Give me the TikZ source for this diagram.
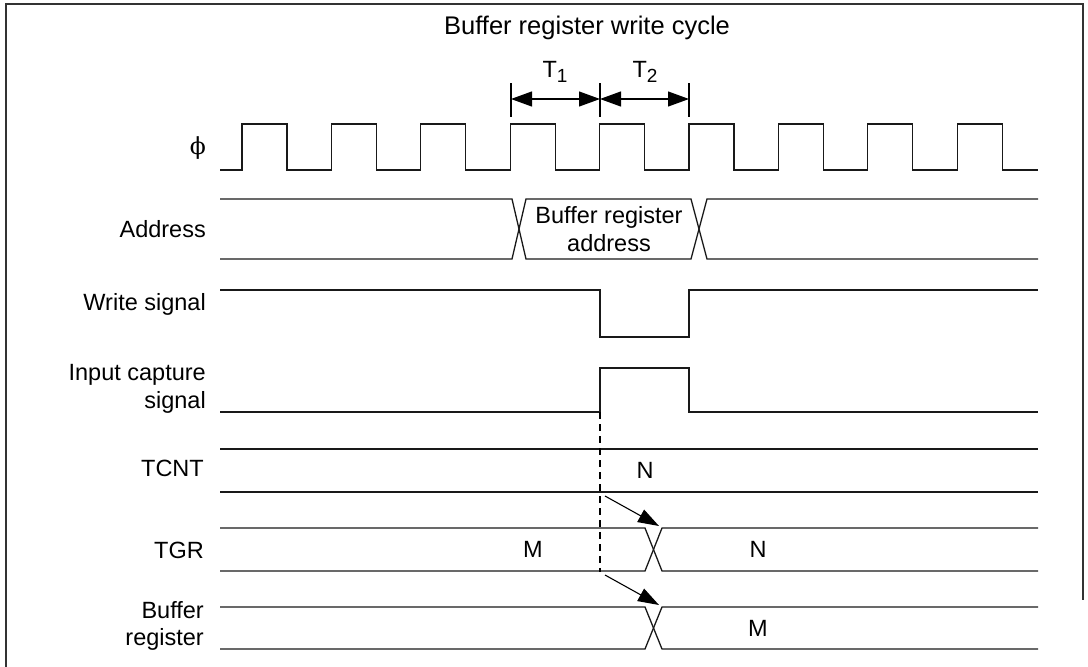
\documentclass[tikz,border=0pt]{standalone}
\usepackage{fontspec}
\setmainfont{Liberation Sans}
\newfontfamily\phifont{DejaVu Serif}
\usetikzlibrary{arrows.meta,positioning}
\newcommand{\sigfont}{\fontsize{23.5}{27.5}\selectfont}
\newcommand{\tsub}[1]{\raisebox{-5pt}{\fontsize{19}{19}\selectfont #1}}
\tikzset{
  frameln/.style={line width=1.5pt, black!80},
  waveln/.style={line width=1.3pt, black!90, line join=miter},
  sigtag/.style={anchor=east, align=right, font=\sigfont, inner sep=0pt},
  valtag/.style={font=\sigfont, inner sep=0pt},
  tickln/.style={line width=1.1pt},
  spanarr/.style={{Triangle[length=21pt,width=15pt]}-{Triangle[length=21pt,width=15pt]}, line width=1.1pt},
  causearr/.style={-{Triangle[length=21pt,width=14pt]}, line width=1.1pt},
  capdash/.style={dash pattern=on 7pt off 5pt, line width=1.1pt},
}
\begin{document}
\begin{tikzpicture}[x=1pt, y=-1pt]
  \useasboundingbox (0,0) rectangle (1088,667);
  % frame
  \draw[frameln] (6,667) -- (6,4) -- (1083,4) -- (1083,600);
  % title and T1/T2 spans
  \node[valtag, font=\fontsize{25.5}{28}\selectfont] (title) at (587,28) {Buffer register write cycle};
  \coordinate (ta) at (511,99);
  \coordinate (tb) at (600,99);
  \coordinate (tc) at (689,99);
  \foreach \c in {ta,tb,tc}
    \draw[tickln] ([yshift=16pt]\c) -- ([yshift=-18pt]\c);
  \draw[spanarr] (ta) -- (tb);
  \draw[spanarr] (tb) -- (tc);
  \node[valtag] (tone) at (555,72) {T\tsub{1}};
  \node[valtag] (ttwo) at (645,72) {T\tsub{2}};
  % signal names
  \node[sigtag] (phi) at (206,148) {\phifont ϕ};
  \node[sigtag] (addr) at (206,229) {Address};
  \node[sigtag] (wrsig) at (206,304) {Write signal};
  \node[sigtag] (icsig) at (206,389) {Input capture\\signal};
  \node[sigtag] (tcnt) at (204,468) {TCNT};
  \node[sigtag] (tgr) at (204,550) {TGR};
  \node[sigtag] (bufreg) at (204,626) {Buffer\\register};
  % clock
  \draw[waveln] (220,170)
    foreach \k in {0,...,8} { -- ({242+89.4*\k},170) -- ++(0,-46) -- ++(45,0) -- ++(0,46) }
    -- (1038,170);
  % address bus
  \draw[waveln] (220,199) -- (512,199) -- (526,259) -- (691,259) -- (707,199) -- (1038,199);
  \draw[waveln] (220,259) -- (512,259) -- (526,199) -- (691,199) -- (707,259) -- (1038,259);
  \node[valtag, align=center] (bufaddr) at (609,229) {Buffer register\\address};
  % write signal
  \draw[waveln] (220,290) -- (600,290) -- (600,337) -- (689,337) -- (689,290) -- (1038,290);
  % input capture signal
  \draw[waveln] (220,412) -- (600,412) -- (600,368) -- (689,368) -- (689,412) -- (1038,412);
  % TCNT
  \draw[waveln] (220,449) -- (1038,449);
  \draw[waveln] (220,492) -- (1038,492);
  \node[valtag] (tcntval) at (645,470) {N};
  % TGR
  \draw[waveln] (220,528) -- (645,528) -- (662,571) -- (1038,571);
  \draw[waveln] (220,571) -- (645,571) -- (662,528) -- (1038,528);
  \node[valtag] (tgrold) at (533,549) {M};
  \node[valtag] (tgrnew) at (758,549) {N};
  % buffer register
  \draw[waveln] (220,607) -- (645,607) -- (662,649) -- (1038,649);
  \draw[waveln] (220,649) -- (645,649) -- (662,607) -- (1038,607);
  \node[valtag] (bufval) at (758,628) {M};
  % capture edge and transfers
  \coordinate (capedge) at (600,412);
  \coordinate (capend) at (600,572);
  \draw[capdash] (capedge) -- (capend);
  \coordinate (fromtcnt) at (605,496);
  \coordinate (totgr) at (659,526);
  \coordinate (fromtgr) at (605,575);
  \coordinate (tobuf) at (659,605);
  \draw[causearr] (fromtcnt) -- (totgr);
  \draw[causearr] (fromtgr) -- (tobuf);
\end{tikzpicture}
\end{document}
